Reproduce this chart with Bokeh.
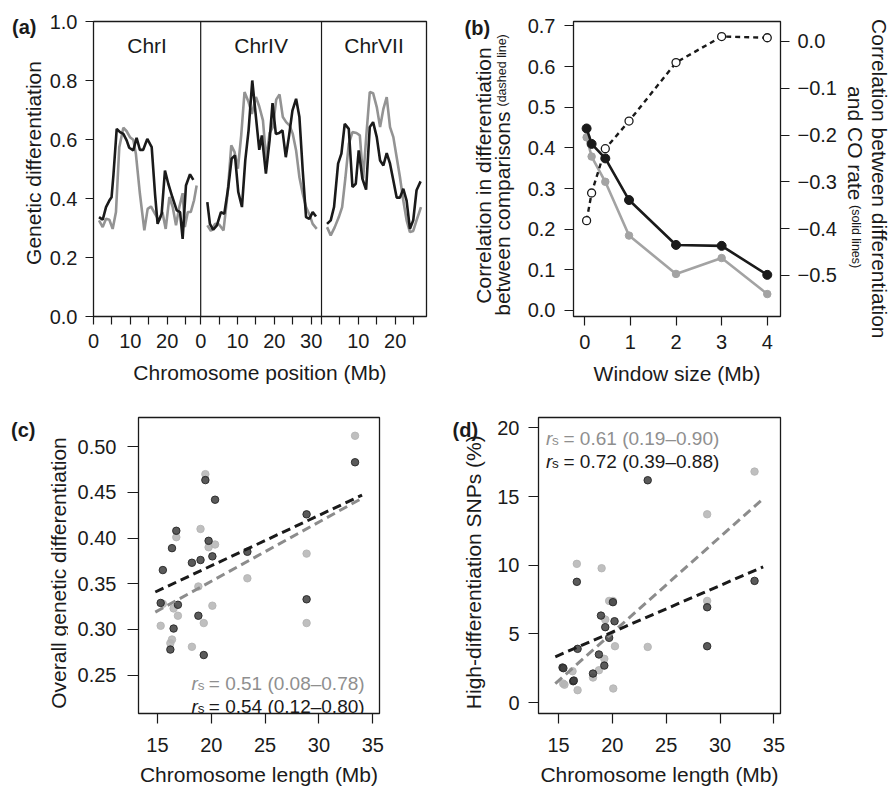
import math
from bokeh.plotting import figure
from bokeh.layouts import row, column
from bokeh.models import Range1d, LinearAxis, FixedTicker, Span, Label
from bokeh.embed import file_html
from bokeh.resources import INLINE

FONT = "Liberation Sans"
INK = "#1a1a1a"
GREY = "#939393"
GREY_TXT = "#8f8f8f"
DARK_PT = "#3d3d3d"
LIGHT_PT = "#b4b4b4"
TICK_PX = "20px"
TITLE_PX = "21px"

# ---------------- data: panel (a) ----------------
chrom_names = ["ChrI", "ChrIV", "ChrVII"]
chrom_span = [29.1, 32.8, 28.5]
chrom_tick_pos = [[0, 5, 10, 15, 20, 25], [0, 5, 10, 15, 20, 25, 30], [0, 5, 10, 15, 20, 25]]
chrom_tick_lab = [["0", "", "10", "", "20", ""], ["0", "", "10", "", "20", "", "30"], ["", "", "10", "", "20", ""]]
a_yticks = [0.0, 0.2, 0.4, 0.6, 0.8, 1.0]

chrI_black_pos = [1.5, 2.5, 3.4, 4.3, 4.9, 5.4, 6.3, 7.2, 8.1, 9.0, 9.7, 10.8, 11.7, 12.6, 13.5, 14.6, 15.8, 16.7,
                  17.4, 18.5, 19.4, 20.3, 21.4, 22.6, 23.5, 24.2, 25.1, 26.2, 27.1]
chrI_black = [0.337, 0.328, 0.371, 0.393, 0.404, 0.478, 0.636, 0.625, 0.619, 0.597, 0.572, 0.563, 0.606, 0.565,
              0.565, 0.602, 0.574, 0.416, 0.314, 0.348, 0.495, 0.450, 0.405, 0.360, 0.354, 0.263, 0.444, 0.482, 0.463]
chrI_grey_pos = [1.5, 2.5, 3.4, 4.3, 5.2, 6.1, 7.0, 8.1, 9.0, 9.9, 10.8, 11.5, 12.6, 13.8, 14.7, 15.6, 16.7, 17.8,
                 18.7, 19.6, 20.6, 21.5, 22.4, 23.3, 24.2, 24.8, 25.6, 26.4, 27.3, 28.0]
chrI_grey = [0.326, 0.303, 0.331, 0.328, 0.297, 0.354, 0.574, 0.640, 0.628, 0.608, 0.599, 0.552, 0.416, 0.292,
             0.365, 0.373, 0.348, 0.325, 0.354, 0.297, 0.405, 0.371, 0.309, 0.371, 0.418, 0.303, 0.354, 0.354,
             0.394, 0.444]

chrIV_black_pos = [1.8, 2.5, 3.4, 4.4, 5.5, 6.4, 7.5, 8.4, 9.3, 10.2, 11.2, 12.1, 13.0, 14.0, 15.0, 15.9, 16.6,
                   17.7, 18.7, 19.5, 20.4, 21.3, 22.2, 23.1, 24.0, 24.9, 25.9, 26.8, 27.7, 28.6, 29.5, 30.4, 31.3]
chrIV_black = [0.388, 0.314, 0.294, 0.309, 0.354, 0.348, 0.439, 0.535, 0.546, 0.422, 0.371, 0.529, 0.631, 0.800,
               0.676, 0.565, 0.614, 0.484, 0.597, 0.723, 0.619, 0.622, 0.631, 0.540, 0.614, 0.698, 0.738, 0.676,
               0.495, 0.337, 0.331, 0.354, 0.339]
chrIV_grey_pos = [1.8, 2.8, 3.9, 5.0, 6.2, 7.3, 8.3, 9.2, 10.1, 11.0, 11.9, 13.0, 13.9, 15.0, 15.9, 16.9, 17.8,
                  18.7, 19.6, 20.5, 21.4, 22.3, 23.2, 24.1, 25.0, 25.9, 26.8, 27.7, 28.6, 29.5, 30.4, 31.5]
chrIV_grey = [0.309, 0.290, 0.314, 0.312, 0.292, 0.416, 0.580, 0.557, 0.501, 0.614, 0.761, 0.727, 0.687, 0.744,
              0.712, 0.665, 0.529, 0.622, 0.642, 0.735, 0.753, 0.676, 0.659, 0.648, 0.619, 0.563, 0.472, 0.416,
              0.371, 0.346, 0.314, 0.297]

chrVII_black_pos = [1.5, 2.5, 3.4, 4.5, 5.4, 6.3, 7.4, 8.4, 9.3, 10.1, 11.1, 12.1, 13.1, 14.0, 15.0, 15.9, 16.8,
                    17.7, 18.6, 19.5, 20.4, 21.3, 22.2, 23.1, 24.0, 24.9, 25.8, 26.9]
chrVII_black = [0.314, 0.326, 0.371, 0.518, 0.552, 0.653, 0.636, 0.439, 0.450, 0.563, 0.467, 0.430, 0.642, 0.659,
                0.608, 0.529, 0.512, 0.554, 0.518, 0.461, 0.403, 0.403, 0.433, 0.393, 0.297, 0.326, 0.428, 0.458]
chrVII_grey_pos = [1.5, 2.5, 3.6, 4.7, 5.6, 6.5, 7.4, 8.4, 9.5, 10.4, 11.3, 12.2, 13.1, 14.0, 15.0, 15.9, 16.8,
                   17.7, 18.6, 19.5, 20.4, 21.3, 22.2, 23.1, 24.0, 24.9, 25.8, 27.0]
chrVII_grey = [0.303, 0.275, 0.303, 0.337, 0.371, 0.472, 0.585, 0.625, 0.622, 0.614, 0.467, 0.619, 0.761, 0.757,
               0.710, 0.642, 0.704, 0.744, 0.642, 0.608, 0.540, 0.472, 0.393, 0.326, 0.286, 0.290, 0.326, 0.371]

# ---------------- data: panel (b) ----------------
window_mb = [0.04, 0.15, 0.45, 0.97, 2.0, 3.0, 4.0]
between_corr = [0.221, 0.289, 0.398, 0.466, 0.610, 0.674, 0.671]          # dashed line, left axis
co_corr_black = [-0.186, -0.219, -0.250, -0.339, -0.435, -0.437, -0.499]  # solid lines, right axis
co_corr_grey = [-0.205, -0.246, -0.300, -0.415, -0.497, -0.463, -0.540]
b_xticks = [0, 1, 2, 3, 4]
b_yticks = [0.0, 0.1, 0.2, 0.3, 0.4, 0.5, 0.6, 0.7]
b_rticks = [0.0, -0.1, -0.2, -0.3, -0.4, -0.5]
b_rtick_labels = ["0.0", "\u22120.1", "\u22120.2", "\u22120.3", "\u22120.4", "\u22120.5"]

# ---------------- data: panel (c) ----------------
c_len = [15.3, 15.5, 16.2, 16.35, 16.5, 16.75, 16.9, 18.2, 18.8, 19.0, 19.3, 19.45, 19.75, 20.1, 20.35,
         23.35, 28.85, 28.85, 33.35]
c_dark = [0.329, 0.365, 0.278, 0.389, 0.301, 0.408, 0.327, 0.373, 0.315, 0.376, 0.272, 0.4635, 0.397, 0.380,
          0.442, 0.385, 0.426, 0.333, 0.483]
c_light = [0.304, 0.328, 0.285, 0.289, 0.323, 0.401, 0.315, 0.281, 0.347, 0.410, 0.307, 0.470, 0.390, 0.326,
           0.393, 0.356, 0.383, 0.307, 0.512]
c_fit_x = [14.8, 34.0]
c_fit_dark = [0.341, 0.447]
c_fit_light = [0.319, 0.4436]
c_rs_light = "= 0.51 (0.08\u20130.78)"
c_rs_dark = "= 0.54 (0.12\u20130.80)"
c_xticks = [15, 20, 25, 30, 35]
c_yticks = [0.25, 0.30, 0.35, 0.40, 0.45, 0.50]

# ---------------- data: panel (d) ----------------
d_dark_x = [15.37, 15.45, 16.36, 16.42, 16.70, 16.77, 18.20, 18.75, 18.94, 19.25, 19.34, 19.70, 20.05, 20.20,
            23.28, 28.80, 28.80, 33.20]
d_dark = [2.55, 2.50, 1.55, 1.60, 8.79, 3.91, 2.11, 3.50, 6.33, 2.69, 5.49, 4.71, 7.31, 5.92, 16.19, 6.94, 4.10, 8.86]
d_light_x = [15.43, 15.55, 16.30, 16.70, 16.77, 18.20, 18.75, 19.00, 19.25, 19.34, 19.70, 20.05, 20.08, 20.24,
             23.28, 28.80, 28.80, 33.20]
d_light = [1.38, 1.30, 2.28, 10.10, 0.90, 1.82, 2.35, 9.78, 3.18, 6.04, 7.40, 7.40, 1.02, 4.10, 4.05, 13.71, 7.40, 16.82]
d_fit_x = [14.7, 34.0]
d_fit_dark = [3.33, 9.88]
d_fit_light = [1.38, 14.85]
d_rs_light = "= 0.61 (0.19\u20130.90)"
d_rs_dark = "= 0.72 (0.39\u20130.88)"
d_xticks = [15, 20, 25, 30, 35]
d_yticks = [0, 5, 10, 15, 20]


def style(p):
    p.xgrid.visible = False
    p.ygrid.visible = False
    p.outline_line_color = INK
    p.outline_line_width = 1.3
    p.outline_line_alpha = 1.0
    p.background_fill_color = "white"
    p.border_fill_color = "white"
    for ax in p.axis:
        ax.axis_line_color = None
        ax.major_tick_line_color = INK
        ax.major_tick_line_width = 1.2
        ax.major_tick_in = 0
        ax.minor_tick_line_color = None
        ax.major_label_text_font = FONT
        ax.major_label_text_font_size = TICK_PX
        ax.major_label_text_color = INK
        ax.axis_label_text_font = FONT
        ax.axis_label_text_font_size = TITLE_PX
        ax.axis_label_text_font_style = "normal"
        ax.axis_label_text_color = INK


def label(p, fl, fb, px, py, text, size=TITLE_PX, angle=0.0, align="left", color=INK, fstyle="normal"):
    """Text at page position (px, py); fl/fb are the page coordinates of the frame's left/bottom edges."""
    p.add_layout(Label(x=px - fl, y=fb - py, x_units="screen", y_units="screen", text=text, angle=angle,
                       text_align=align, text_baseline="alphabetic", text_font=FONT, text_font_size=size,
                       text_color=color, text_font_style=fstyle))


common = dict(output_backend="svg", toolbar_location=None, frame_align=False)


def aux(w, h):
    f = figure(width=w, height=h, x_range=Range1d(0, 1), y_range=Range1d(0, 1), x_axis_location=None,
               y_axis_location=None, min_border_left=0, min_border_right=0, min_border_top=0,
               min_border_bottom=0, **common)
    f.xgrid.visible = False
    f.ygrid.visible = False
    f.outline_line_color = None
    f.background_fill_color = "white"
    f.border_fill_color = "white"
    return f


UP = math.pi / 2
DOWN = -math.pi / 2

# ================= panel (a) =================
auxA = aux(45, 392)
label(auxA, 0, 392, 11.5, 26, "(a)", size="20px", fstyle="bold")
label(auxA, 0, 392, 32.7, 162.5, "Genetic differentiation", angle=UP, align="center")

offsets = [sum(chrom_span[:i]) for i in range(len(chrom_span))]
total = sum(chrom_span)
pA = figure(width=395, height=392, x_range=Range1d(0, total), y_range=Range1d(0, 1),
            min_border_left=48, min_border_right=14, min_border_top=21, min_border_bottom=76, **common)
series = [(chrI_black_pos, chrI_black, chrI_grey_pos, chrI_grey),
          (chrIV_black_pos, chrIV_black, chrIV_grey_pos, chrIV_grey),
          (chrVII_black_pos, chrVII_black, chrVII_grey_pos, chrVII_grey)]
for off, (bp, bv, gp, gv) in zip(offsets, series):
    pA.line([off + x for x in gp], gv, line_color=GREY, line_width=2.6)
for off, (bp, bv, gp, gv) in zip(offsets, series):
    pA.line([off + x for x in bp], bv, line_color=INK, line_width=2.6)
for off in offsets[1:]:
    pA.add_layout(Span(location=off, dimension="height", line_color=INK, line_width=1.2))
for off, span, name in zip(offsets, chrom_span, chrom_names):
    pA.add_layout(Label(x=off + span / 2, y=0.918, text=name, text_align="center", text_baseline="alphabetic",
                        text_font=FONT, text_font_size=TITLE_PX, text_color=INK))
a_ticks, a_labels = [], []
for off, tp, tl in zip(offsets, chrom_tick_pos, chrom_tick_lab):
    for t, l in zip(tp, tl):
        a_ticks.append(off + t)
        a_labels.append(l)
pA.xaxis.ticker = FixedTicker(ticks=a_ticks)
pA.xaxis.major_label_overrides = dict(zip(a_ticks, a_labels))
pA.yaxis.ticker = FixedTicker(ticks=a_yticks)
pA.yaxis.major_label_overrides = {t: f"{t:.1f}" for t in a_yticks}
pA.xaxis.axis_label = "Chromosome position (Mb)"
style(pA)
pA.yaxis.major_tick_out = 8
pA.yaxis.major_label_standoff = 8
pA.xaxis.major_tick_out = 8
pA.xaxis.major_label_standoff = 9
pA.xaxis.axis_label_standoff = 10

# ================= panel (b) =================
XB = 440
auxB = aux(80, 392)
label(auxB, XB, 392, 464, 27.5, "(b)", size="20px", fstyle="bold")
label(auxB, XB, 392, 483.3, 175, "Correlation in differentiation", angle=UP, align="center")
label(auxB, XB, 392, 501.7, 111, "between comparisons", angle=UP, align="right")
label(auxB, XB, 392, 501.7, 106, "(dashed line)", size="12.5px", angle=UP, align="left")

pB = figure(width=325, height=392, x_range=Range1d(-0.247, 4.29), y_range=Range1d(-0.0148, 0.711),
            min_border_left=53, min_border_right=65, min_border_top=21, min_border_bottom=76, **common)
pB.extra_y_ranges = {"co": Range1d(-0.588, 0.0427)}
rax = LinearAxis(y_range_name="co", ticker=FixedTicker(ticks=b_rticks),
                 major_label_overrides=dict(zip(b_rticks, b_rtick_labels)))
pB.add_layout(rax, "right")
pB.line(window_mb, co_corr_grey, y_range_name="co", line_color="#a3a3a3", line_width=2.6)
pB.scatter(window_mb, co_corr_grey, y_range_name="co", size=7.5, fill_color="#a3a3a3", line_color="#a3a3a3")
pB.line(window_mb, co_corr_black, y_range_name="co", line_color=INK, line_width=2.6)
pB.scatter(window_mb, co_corr_black, y_range_name="co", size=9, fill_color=INK, line_color=INK)
pB.line(window_mb, between_corr, line_color=INK, line_width=2.4, line_dash="5 4")
pB.scatter(window_mb, between_corr, size=8, fill_color="white", line_color=INK, line_width=1.3)
pB.xaxis.ticker = FixedTicker(ticks=b_xticks)
pB.yaxis[0].ticker = FixedTicker(ticks=b_yticks)
pB.yaxis[0].major_label_overrides = {t: f"{t:.1f}" for t in b_yticks}
pB.xaxis.axis_label = "Window size (Mb)"
style(pB)
for ax in pB.yaxis:
    ax.major_tick_out = 9
pB.yaxis[0].major_label_standoff = 9
rax.major_label_standoff = 8
pB.xaxis.major_tick_out = 9
pB.xaxis.major_label_standoff = 9
pB.xaxis.axis_label_standoff = 10

XBR = 845
auxBR = aux(50, 392)
label(auxBR, XBR, 392, 879.3, 178.3, "Correlation between differentiation", angle=DOWN, align="center")
label(auxBR, XBR, 392, 855, 200, "and CO rate", angle=DOWN, align="right")
label(auxBR, XBR, 392, 855, 204.5, "(solid lines)", size="12.5px", angle=DOWN, align="left")

# ================= panel (c) =================
auxC = aux(68, 396)
label(auxC, 0, 788, 10.5, 429, "(c)", size="20px", fstyle="bold")
label(auxC, 0, 788, 57.5, 572.5, "Overall genetic differentiation", angle=UP, align="center")

pC = figure(width=372, height=396, x_range=Range1d(13.24, 35.62), y_range=Range1d(0.208, 0.532),
            min_border_left=70, min_border_right=61, min_border_top=25, min_border_bottom=75, **common)
pC.scatter(c_len, c_light, size=7.5, fill_color=LIGHT_PT, fill_alpha=0.85, line_color=LIGHT_PT, line_alpha=0.85)
pC.scatter(c_len, c_dark, size=7.5, fill_color=DARK_PT, fill_alpha=0.85, line_color="#262626", line_alpha=0.9)
pC.line(c_fit_x, c_fit_light, line_color="#8c8c8c", line_width=3, line_dash="9 5")
pC.line(c_fit_x, c_fit_dark, line_color=INK, line_width=3, line_dash="9 5")
pC.xaxis.ticker = FixedTicker(ticks=c_xticks)
pC.yaxis.ticker = FixedTicker(ticks=c_yticks)
pC.yaxis.major_label_overrides = {t: f"{t:.2f}" for t in c_yticks}
pC.xaxis.axis_label = "Chromosome length (Mb)"
style(pC)
pC.yaxis.major_tick_out = 11
pC.yaxis.major_label_standoff = 11
pC.xaxis.major_tick_out = 10
pC.xaxis.major_label_standoff = 14
pC.xaxis.axis_label_standoff = 8
CL, CB = 138, 713
for base_y, txt, col in [(683.3, c_rs_light, GREY_TXT), (706, c_rs_dark, INK)]:
    label(pC, CL, CB, 191, base_y, "r", color=col, fstyle="italic", size="19px")
    label(pC, CL, CB, 197.3, base_y + 1.5, "s", color=col, size="13.5px")
    label(pC, CL, CB, 208.3, base_y, txt, color=col, size="19px")

# ================= panel (d) =================
XD = 440
auxD = aux(50, 396)
label(auxD, XD, 788, 452, 429, "(d)", size="20px", fstyle="bold")
label(auxD, XD, 788, 472.5, 571.7, "High-differentiation SNPs (%)", angle=UP, align="center")

pD = figure(width=405, height=396, x_range=Range1d(13.14, 35.61), y_range=Range1d(-0.8, 20.76),
            min_border_left=48, min_border_right=115, min_border_top=25, min_border_bottom=75, **common)
pD.scatter(d_light_x, d_light, size=7.5, fill_color=LIGHT_PT, fill_alpha=0.85, line_color=LIGHT_PT, line_alpha=0.85)
pD.scatter(d_dark_x, d_dark, size=7.5, fill_color=DARK_PT, fill_alpha=0.85, line_color="#262626", line_alpha=0.9)
pD.line(d_fit_x, d_fit_light, line_color="#8c8c8c", line_width=3, line_dash="9 5")
pD.line(d_fit_x, d_fit_dark, line_color=INK, line_width=3, line_dash="9 5")
pD.xaxis.ticker = FixedTicker(ticks=d_xticks)
pD.yaxis.ticker = FixedTicker(ticks=d_yticks)
pD.xaxis.axis_label = "Chromosome length (Mb)"
style(pD)
pD.yaxis.major_tick_out = 10
pD.yaxis.major_label_standoff = 9
pD.xaxis.major_tick_out = 10
pD.xaxis.major_label_standoff = 14
pD.xaxis.axis_label_standoff = 8
DL, DB = 538, 713
for base_y, txt, col in [(438.3, d_rs_light, GREY_TXT), (461, d_rs_dark, INK)]:
    label(pD, DL, DB, 545.5, base_y, "r", color=col, fstyle="italic", size="19px")
    label(pD, DL, DB, 551.5, base_y + 1.5, "s", color=col, size="13.5px")
    label(pD, DL, DB, 563, base_y, txt, color=col, size="19px")

layout = column(row(auxA, pA, auxB, pB, auxBR), row(auxC, pC, auxD, pD))
open("out.html", "w").write(file_html(layout, INLINE))
